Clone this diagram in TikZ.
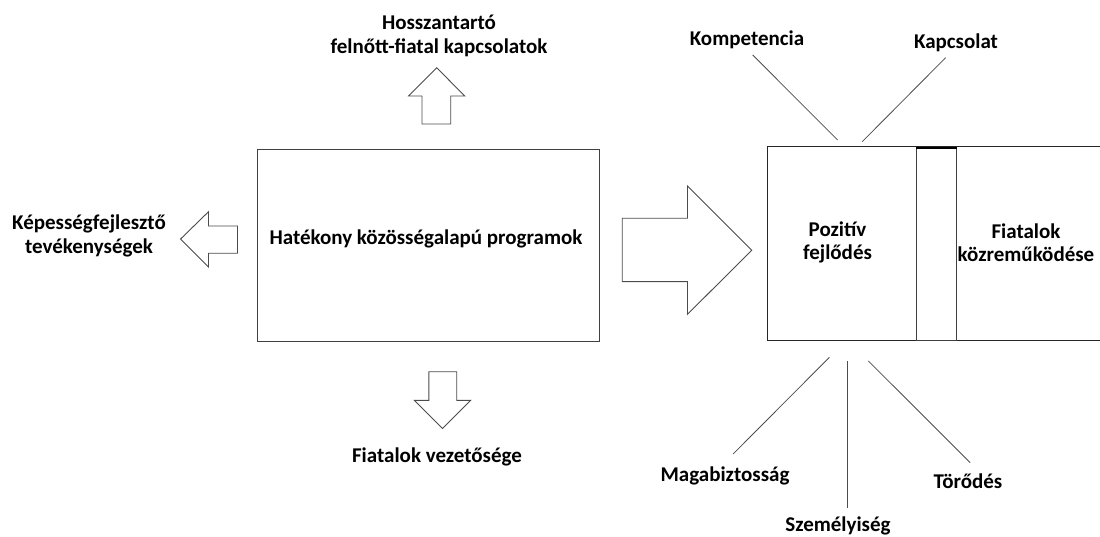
\documentclass[tikz,border=0pt]{standalone}
\usepackage{fontspec}
\setmainfont{Carlito}
\begin{document}
\begin{tikzpicture}[x=1pt,y=-1pt,
  lbl/.style={font=\bfseries\fontsize{21}{23.5}\selectfont, align=center, inner sep=0pt, text=black, anchor=base},
  boxst/.style={draw=black!75, line width=1pt, inner sep=0pt},
  blockarrow/.style={draw=black!70, line width=0.9pt, line join=miter, fill=white},
  spoke/.style={draw=black!70, line width=0.8pt}]
\useasboundingbox (0,0) rectangle (1100,537);
\clip (0,0) rectangle (1100,537);
% main box
\node[boxst, minimum width=341.3pt, minimum height=191.7pt] (main) at (428.45,245.85) {};
\node[lbl] (maintext) at (426,244.3) {Hatékony közösségalapú programok};
% right box
\node[boxst, draw=black!85, minimum width=345pt, minimum height=193.3pt] (rbox) at (940,243.35) {};
\node[boxst, minimum width=40.4pt, minimum height=191.7pt] (col) at (936.7,244.15) {};
\draw[black, line width=2pt] (col.north west) -- (col.north east);
\node[lbl] (poz) at (837.5,260) {Pozitív\\fejlődés};
\node[lbl] (fkoz) at (1026,261.7) {Fiatalok\\közreműködése};
% block arrows
\draw[blockarrow] (422,124) -- (422,96) -- (408.6,96) -- (436.7,67.7) -- (464.7,96) -- (450.7,96) -- (450.7,124) -- cycle;
\draw[blockarrow] (237.5,226) -- (208.5,226) -- (208.5,211.7) -- (180.6,239) -- (208.5,267) -- (208.5,253.3) -- (237.5,253.3) -- cycle;
\draw[blockarrow] (428.8,371.7) -- (456.7,371.7) -- (456.7,400.3) -- (470.7,400.3) -- (442.6,428.5) -- (414.3,400.3) -- (428.8,400.3) -- cycle;
\draw[blockarrow] (622.2,218.3) -- (687.5,218.3) -- (687.5,186) -- (751.7,250.3) -- (687.5,314.3) -- (687.5,281.7) -- (622.2,281.7) -- cycle;
% labels
\node[lbl] (hoss) at (439,53.3) {Hosszantartó\\felnőtt-fiatal kapcsolatok};
\node[lbl] (kep) at (89,253.3) {Képességfejlesztő\\tevékenységek};
\node[lbl] (fvez) at (437,462.7) {Fiatalok vezetősége};
\node[lbl] (komp) at (747,46) {Kompetencia};
\node[lbl] (kapcs) at (956,48.5) {Kapcsolat};
\node[lbl] (magab) at (725,481.7) {Magabiztosság};
\node[lbl] (torod) at (968,488.3) {Törődés};
\node[lbl] (szem) at (838,531.5) {Személyiség};
% spokes
\coordinate (k1) at (752.7,55); \coordinate (k2) at (837.6,140);
\coordinate (c1) at (945.6,57.7); \coordinate (c2) at (862.2,141.7);
\coordinate (m1) at (829.4,357.3); \coordinate (m2) at (733.1,454);
\coordinate (s1) at (847.2,361); \coordinate (s2) at (847.2,508.3);
\coordinate (t1) at (868.4,361); \coordinate (t2) at (970.2,462.7);
\draw[spoke] (k1) -- (k2);
\draw[spoke] (c1) -- (c2);
\draw[spoke] (m1) -- (m2);
\draw[spoke] (s1) -- (s2);
\draw[spoke] (t1) -- (t2);
\end{tikzpicture}
\end{document}
